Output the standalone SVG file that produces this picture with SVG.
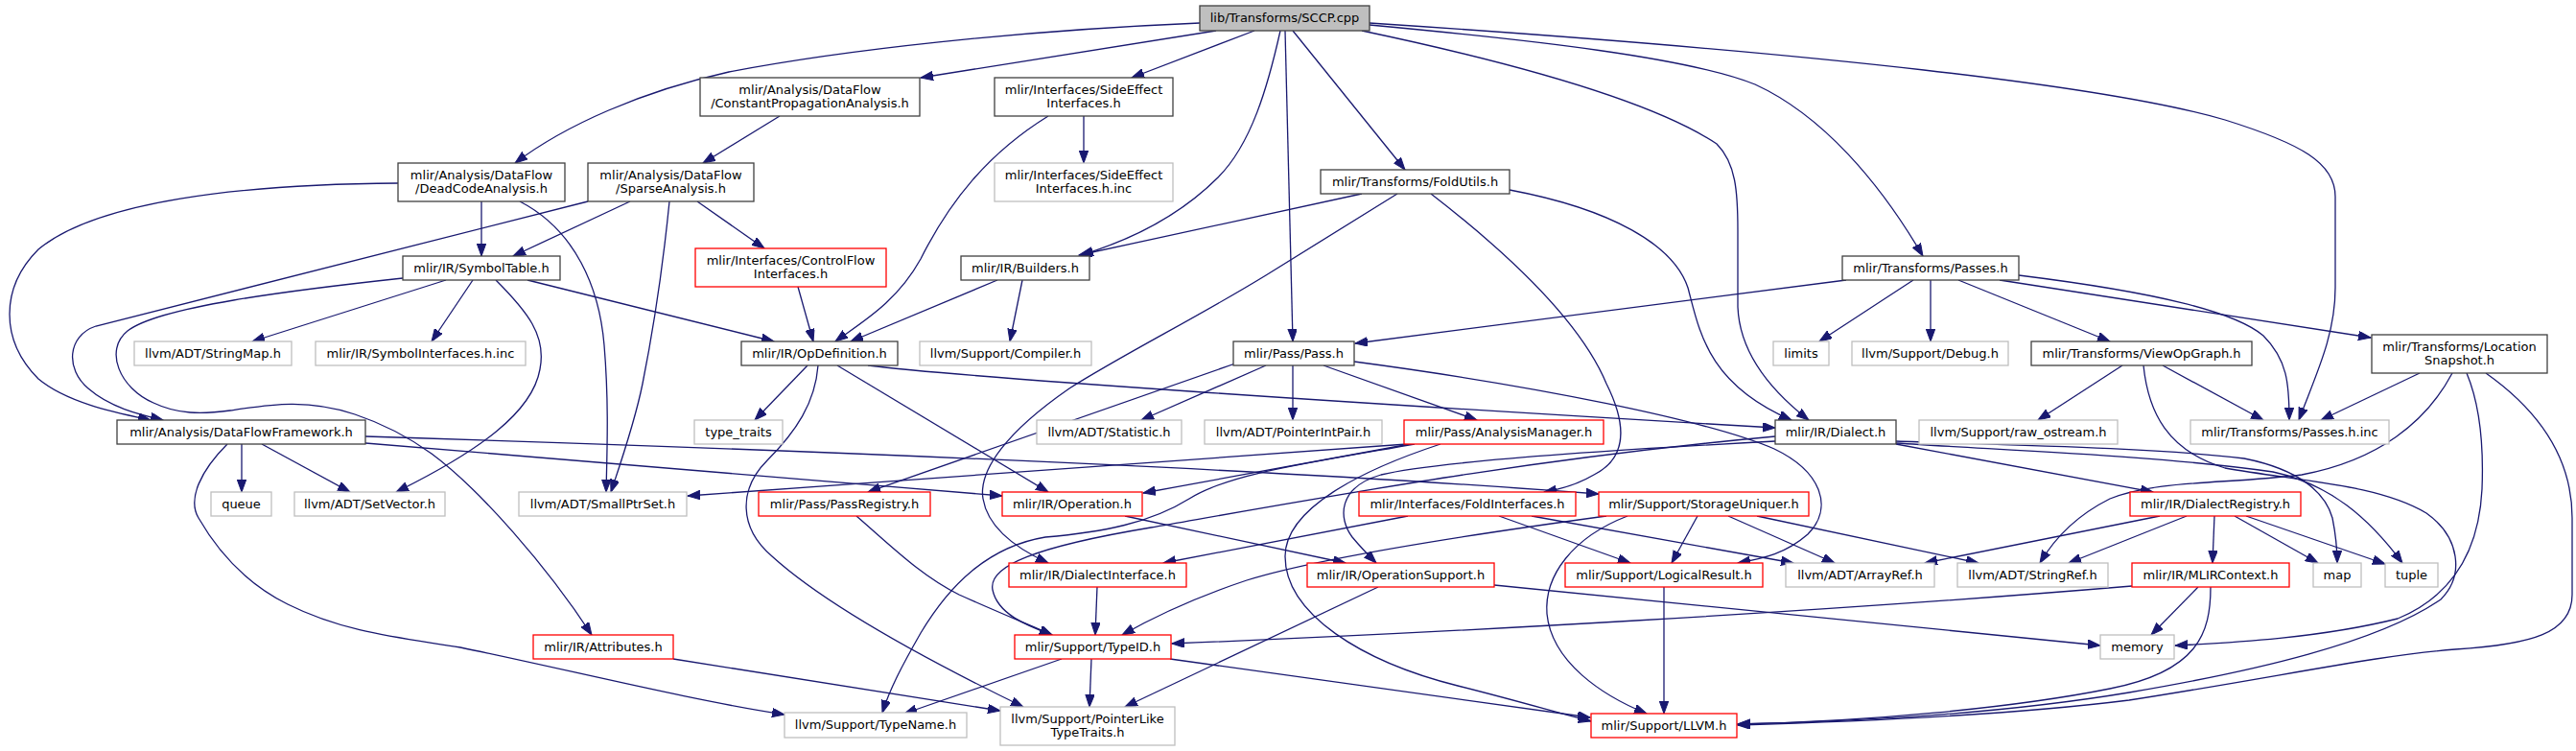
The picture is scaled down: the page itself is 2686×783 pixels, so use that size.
<svg xmlns="http://www.w3.org/2000/svg" width="2686" height="783" viewBox="0 0 2686 783">
<style>
rect{fill:#fff;stroke:#404040;stroke-width:1.3}
.g rect{stroke:#bfbfbf}
.r rect{stroke:#ff0000}
.root rect{fill:#bfbfbf}
text{font-family:"DejaVu Sans","Liberation Sans",sans-serif;font-size:13px;fill:#000;text-anchor:middle}
#edges path{fill:none;stroke:#191970;stroke-width:1.3;marker-end:url(#ah)}
</style>
<defs>
<marker id="ah" markerUnits="userSpaceOnUse" markerWidth="14" markerHeight="10" refX="13" refY="4.75" orient="auto">
<path d="M0,0 L13,4.75 L0,9.5 z" fill="#191970" stroke="#191970" stroke-width="1"/>
</marker>
</defs>
<rect x="0" y="0" width="2686" height="783" style="fill:#fff;stroke:none"/>
<g id="edges">
<path d="M1251,24 C1060,32 880,52 760,75 C670,95 590,130 537,170"/>
<path d="M1268,32 L960,81"/>
<path d="M1308,32 L1180,81"/>
<path d="M1335,32 C1322,90 1305,150 1270,185 C1230,225 1180,250 1127,266"/>
<path d="M1340,32 L1348,356"/>
<path d="M1348,32 L1465,177"/>
<path d="M1420,32 C1600,70 1730,110 1790,150 C1810,170 1812,200 1812,240 L1812,320 C1814,370 1850,410 1886,438"/>
<path d="M1428,26 C1600,42 1760,60 1830,88 C1900,120 1960,190 2005,267"/>
<path d="M1428,24 C1900,55 2200,90 2320,125 C2400,150 2435,170 2435,205 L2435,300 C2435,350 2415,390 2397,438"/>
<path d="M813,121 L733,170"/>
<path d="M502,210 L502,267"/>
<path d="M415,191 C250,192 100,210 40,260 C0,300 0,355 40,395 C70,420 120,430 157,438"/>
<path d="M542,210 C600,240 625,300 630,360 C635,420 633,470 632,513"/>
<path d="M613,210 L100,340 C70,350 68,385 92,405 C115,425 145,432 170,438"/>
<path d="M657,210 L535,267"/>
<path d="M698,210 C690,290 680,350 670,400 C662,440 648,480 637,513"/>
<path d="M727,210 L797,259"/>
<path d="M1130,121 L1130,170"/>
<path d="M1093,121 C1030,160 990,210 960,270 C935,315 900,335 871,356"/>
<path d="M1040,292 L887,356"/>
<path d="M1066,292 L1053,356"/>
<path d="M832,299 L848,356"/>
<path d="M550,292 L807,356"/>
<path d="M465,292 L263,356"/>
<path d="M493,292 L450,356"/>
<path d="M517,292 C550,325 570,350 563,385 C555,430 500,470 413,513"/>
<path d="M420,290 C300,303 165,320 133,345 C108,365 125,405 160,420 C185,432 210,432 240,428 C280,422 320,415 370,432 C400,442 425,455 450,473 C500,510 570,590 617,662"/>
<path d="M252,463 L252,513"/>
<path d="M273,463 L365,513"/>
<path d="M237,463 C210,490 195,520 207,540 C230,580 260,610 300,630 C360,660 420,665 480,675 C600,700 720,730 818,745"/>
<path d="M381,462 L1045,517"/>
<path d="M381,455 C800,468 1300,487 1667,515"/>
<path d="M842,381 L787,438"/>
<path d="M853,381 C850,420 830,450 800,480 C770,510 770,550 805,580 C860,630 960,685 1067,737"/>
<path d="M873,381 L1093,513"/>
<path d="M905,381 C1000,393 1400,420 1851,446"/>
<path d="M1320,381 L1190,438"/>
<path d="M1348,381 L1348,438"/>
<path d="M1380,381 L1540,438"/>
<path d="M1288,379 L905,513"/>
<path d="M1412,377 C1600,402 1780,438 1850,468 C1900,492 1912,530 1885,557 C1862,577 1840,582 1812,587"/>
<path d="M1925,292 L1413,358"/>
<path d="M1995,292 L1897,356"/>
<path d="M2013,292 L2013,356"/>
<path d="M2042,292 L2200,356"/>
<path d="M2085,292 L2472,352"/>
<path d="M2105,287 C2250,305 2330,325 2360,350 C2385,375 2387,400 2387,438"/>
<path d="M2213,381 L2125,438"/>
<path d="M2255,381 L2360,438"/>
<path d="M2235,381 C2240,430 2260,470 2320,488 C2400,502 2480,505 2530,535 C2565,560 2570,600 2545,625 C2480,670 2350,700 2220,722 C2100,742 1950,752 1812,755"/>
<path d="M2523,389 L2420,438"/>
<path d="M2557,389 C2530,440 2480,480 2400,495 C2320,505 2250,500 2200,520 C2160,540 2140,565 2127,587"/>
<path d="M2572,389 C2585,420 2590,460 2588,510 C2585,570 2560,620 2500,645 C2420,665 2330,670 2268,673"/>
<path d="M2592,389 C2650,430 2682,480 2682,540 L2682,620 C2682,660 2640,672 2560,677 C2480,683 2380,705 2220,730 C2100,745 1950,752 1812,756"/>
<path d="M1420,202 L1125,266"/>
<path d="M1457,202 L1320,287 C1250,330 1170,370 1115,405 C1050,450 1020,490 1025,520 C1030,550 1060,572 1093,587"/>
<path d="M1492,202 C1580,270 1650,340 1675,400 C1700,450 1692,480 1662,495 C1645,505 1628,510 1610,513"/>
<path d="M1574,198 C1680,218 1745,255 1760,300 C1772,345 1780,400 1868,438"/>
<path d="M1851,455 C1600,478 1400,515 1200,550 C1080,570 1030,590 1035,615 C1040,640 1070,652 1097,662"/>
<path d="M1851,460 C1700,468 1500,480 1440,495 C1395,508 1395,540 1410,560 C1420,572 1428,580 1435,587"/>
<path d="M1977,463 L2245,513"/>
<path d="M1977,460 C2100,464 2250,467 2340,478 C2400,490 2425,515 2432,540 C2436,560 2437,575 2437,587"/>
<path d="M1977,462 C2100,470 2250,475 2370,492 C2430,505 2470,540 2505,587"/>
<path d="M1467,463 L717,517"/>
<path d="M1470,463 L1192,514"/>
<path d="M1475,463 C1350,485 1280,495 1240,520 C1200,545 1150,555 1090,560 C1030,570 990,610 960,660 C940,695 928,718 920,743"/>
<path d="M1502,463 C1420,490 1340,530 1340,580 C1340,640 1420,690 1520,715 C1580,730 1620,742 1659,752"/>
<path d="M1468,538 L1213,587"/>
<path d="M1563,538 L1700,587"/>
<path d="M1597,538 L1870,587"/>
<path d="M1675,538 C1550,555 1380,580 1300,605 C1240,625 1200,645 1170,662"/>
<path d="M1770,538 L1743,587"/>
<path d="M1802,538 L1913,587"/>
<path d="M1832,538 L2063,587"/>
<path d="M1697,538 C1640,560 1610,600 1613,640 C1618,690 1670,725 1717,744"/>
<path d="M1173,538 L1403,587"/>
<path d="M1144,612 L1142,662"/>
<path d="M893,538 C930,570 960,600 1000,620 C1040,638 1070,650 1097,662"/>
<path d="M1107,687 L943,744"/>
<path d="M1138,687 L1136,737"/>
<path d="M1220,687 L1658,748"/>
<path d="M1437,612 L1173,737"/>
<path d="M1558,610 L2190,673"/>
<path d="M1735,612 L1735,744"/>
<path d="M702,687 L1043,741"/>
<path d="M2292,612 L2243,662"/>
<path d="M2305,612 C2305,660 2292,700 2200,718 C2100,738 1950,752 1812,755"/>
<path d="M2223,611 C1900,638 1500,660 1222,671"/>
<path d="M2252,538 L2007,587"/>
<path d="M2280,538 L2157,587"/>
<path d="M2309,538 L2307,587"/>
<path d="M2330,538 L2417,587"/>
<path d="M2342,538 L2487,588"/>
</g>
<g id="n0" class="root"><rect x="1251" y="6" width="177" height="26"/><text x="1339.5" y="22.5">lib/Transforms/SCCP.cpp</text></g>
<g id="n1"><rect x="415" y="170" width="174" height="40"/><text x="502" y="186.5">mlir/Analysis/DataFlow</text><text x="502" y="200.5">/DeadCodeAnalysis.h</text></g>
<g id="n2"><rect x="730" y="81" width="229" height="40"/><text x="844.5" y="97.5">mlir/Analysis/DataFlow</text><text x="844.5" y="111.5">/ConstantPropagationAnalysis.h</text></g>
<g id="n3"><rect x="613" y="170" width="173" height="40"/><text x="699.5" y="186.5">mlir/Analysis/DataFlow</text><text x="699.5" y="200.5">/SparseAnalysis.h</text></g>
<g id="n4"><rect x="1037" y="81" width="186" height="40"/><text x="1130" y="97.5">mlir/Interfaces/SideEffect</text><text x="1130" y="111.5">Interfaces.h</text></g>
<g id="n5" class="g"><rect x="1037" y="170" width="186" height="40"/><text x="1130" y="186.5">mlir/Interfaces/SideEffect</text><text x="1130" y="200.5">Interfaces.h.inc</text></g>
<g id="n6"><rect x="420" y="267" width="164" height="25"/><text x="502" y="283.5">mlir/IR/SymbolTable.h</text></g>
<g id="n7" class="r"><rect x="725" y="259" width="199" height="40"/><text x="824.5" y="275.5">mlir/Interfaces/ControlFlow</text><text x="824.5" y="289.5">Interfaces.h</text></g>
<g id="n8"><rect x="1002" y="267" width="134" height="25"/><text x="1069" y="283.5">mlir/IR/Builders.h</text></g>
<g id="n9"><rect x="1377" y="177" width="197" height="25"/><text x="1475.5" y="193.5">mlir/Transforms/FoldUtils.h</text></g>
<g id="n10"><rect x="1921" y="267" width="184" height="25"/><text x="2013" y="283.5">mlir/Transforms/Passes.h</text></g>
<g id="n11"><rect x="2473" y="349" width="183" height="40"/><text x="2564.5" y="365.5">mlir/Transforms/Location</text><text x="2564.5" y="379.5">Snapshot.h</text></g>
<g id="n12"><rect x="2118" y="356" width="230" height="25"/><text x="2233" y="372.5">mlir/Transforms/ViewOpGraph.h</text></g>
<g id="n13" class="g"><rect x="1849" y="356" width="58" height="25"/><text x="1878" y="372.5">limits</text></g>
<g id="n14" class="g"><rect x="1931" y="356" width="163" height="25"/><text x="2012.5" y="372.5">llvm/Support/Debug.h</text></g>
<g id="n15"><rect x="1286" y="356" width="126" height="25"/><text x="1349" y="372.5">mlir/Pass/Pass.h</text></g>
<g id="n16" class="g"><rect x="959" y="356" width="179" height="25"/><text x="1048.5" y="372.5">llvm/Support/Compiler.h</text></g>
<g id="n17"><rect x="773" y="356" width="163" height="25"/><text x="854.5" y="372.5">mlir/IR/OpDefinition.h</text></g>
<g id="n18" class="g"><rect x="140" y="356" width="164" height="25"/><text x="222" y="372.5">llvm/ADT/StringMap.h</text></g>
<g id="n19" class="g"><rect x="329" y="356" width="219" height="25"/><text x="438.5" y="372.5">mlir/IR/SymbolInterfaces.h.inc</text></g>
<g id="n20"><rect x="122" y="438" width="259" height="25"/><text x="251.5" y="454.5">mlir/Analysis/DataFlowFramework.h</text></g>
<g id="n21" class="g"><rect x="220" y="513" width="63" height="25"/><text x="251.5" y="529.5">queue</text></g>
<g id="n22" class="g"><rect x="307" y="513" width="157" height="25"/><text x="385.5" y="529.5">llvm/ADT/SetVector.h</text></g>
<g id="n23" class="g"><rect x="724" y="438" width="92" height="25"/><text x="770" y="454.5">type_traits</text></g>
<g id="n24" class="g"><rect x="541" y="513" width="175" height="25"/><text x="628.5" y="529.5">llvm/ADT/SmallPtrSet.h</text></g>
<g id="n25" class="r"><rect x="791" y="513" width="179" height="25"/><text x="880.5" y="529.5">mlir/Pass/PassRegistry.h</text></g>
<g id="n26" class="r"><rect x="556" y="662" width="146" height="25"/><text x="629" y="678.5">mlir/IR/Attributes.h</text></g>
<g id="n27" class="g"><rect x="818" y="743" width="190" height="26"/><text x="913" y="760">llvm/Support/TypeName.h</text></g>
<g id="n28" class="r"><rect x="1045" y="513" width="146" height="25"/><text x="1118" y="529.5">mlir/IR/Operation.h</text></g>
<g id="n29" class="g"><rect x="1081" y="438" width="151" height="25"/><text x="1156.5" y="454.5">llvm/ADT/Statistic.h</text></g>
<g id="n30" class="g"><rect x="1256" y="438" width="185" height="25"/><text x="1348.5" y="454.5">llvm/ADT/PointerIntPair.h</text></g>
<g id="n31" class="r"><rect x="1052" y="587" width="185" height="25"/><text x="1144.5" y="603.5">mlir/IR/DialectInterface.h</text></g>
<g id="n32" class="r"><rect x="1058" y="662" width="163" height="25"/><text x="1139.5" y="678.5">mlir/Support/TypeID.h</text></g>
<g id="n33" class="g"><rect x="1043" y="737" width="182" height="40"/><text x="1134" y="753.5">llvm/Support/PointerLike</text><text x="1134" y="767.5">TypeTraits.h</text></g>
<g id="n34" class="r"><rect x="1464" y="438" width="208" height="25"/><text x="1568" y="454.5">mlir/Pass/AnalysisManager.h</text></g>
<g id="n35" class="r"><rect x="1417" y="513" width="226" height="25"/><text x="1530" y="529.5">mlir/Interfaces/FoldInterfaces.h</text></g>
<g id="n36" class="r"><rect x="1667" y="513" width="219" height="25"/><text x="1776.5" y="529.5">mlir/Support/StorageUniquer.h</text></g>
<g id="n37" class="r"><rect x="1363" y="587" width="195" height="25"/><text x="1460.5" y="603.5">mlir/IR/OperationSupport.h</text></g>
<g id="n38" class="r"><rect x="1632" y="587" width="206" height="25"/><text x="1735" y="603.5">mlir/Support/LogicalResult.h</text></g>
<g id="n39" class="r"><rect x="1659" y="744" width="152" height="25"/><text x="1735" y="760.5">mlir/Support/LLVM.h</text></g>
<g id="n40"><rect x="1851" y="438" width="126" height="25"/><text x="1914" y="454.5">mlir/IR/Dialect.h</text></g>
<g id="n41" class="g"><rect x="2001" y="438" width="207" height="25"/><text x="2104.5" y="454.5">llvm/Support/raw_ostream.h</text></g>
<g id="n42" class="g"><rect x="1862" y="587" width="155" height="25"/><text x="1939.5" y="603.5">llvm/ADT/ArrayRef.h</text></g>
<g id="n43" class="g"><rect x="2041" y="587" width="157" height="25"/><text x="2119.5" y="603.5">llvm/ADT/StringRef.h</text></g>
<g id="n44" class="g"><rect x="2190" y="662" width="77" height="25"/><text x="2228.5" y="678.5">memory</text></g>
<g id="n45" class="g"><rect x="2284" y="438" width="207" height="25"/><text x="2387.5" y="454.5">mlir/Transforms/Passes.h.inc</text></g>
<g id="n46" class="r"><rect x="2221" y="513" width="178" height="25"/><text x="2310" y="529.5">mlir/IR/DialectRegistry.h</text></g>
<g id="n47" class="r"><rect x="2223" y="587" width="164" height="25"/><text x="2305" y="603.5">mlir/IR/MLIRContext.h</text></g>
<g id="n48" class="g"><rect x="2412" y="587" width="50" height="25"/><text x="2437" y="603.5">map</text></g>
<g id="n49" class="g"><rect x="2487" y="587" width="55" height="25"/><text x="2514.5" y="603.5">tuple</text></g>
</svg>
